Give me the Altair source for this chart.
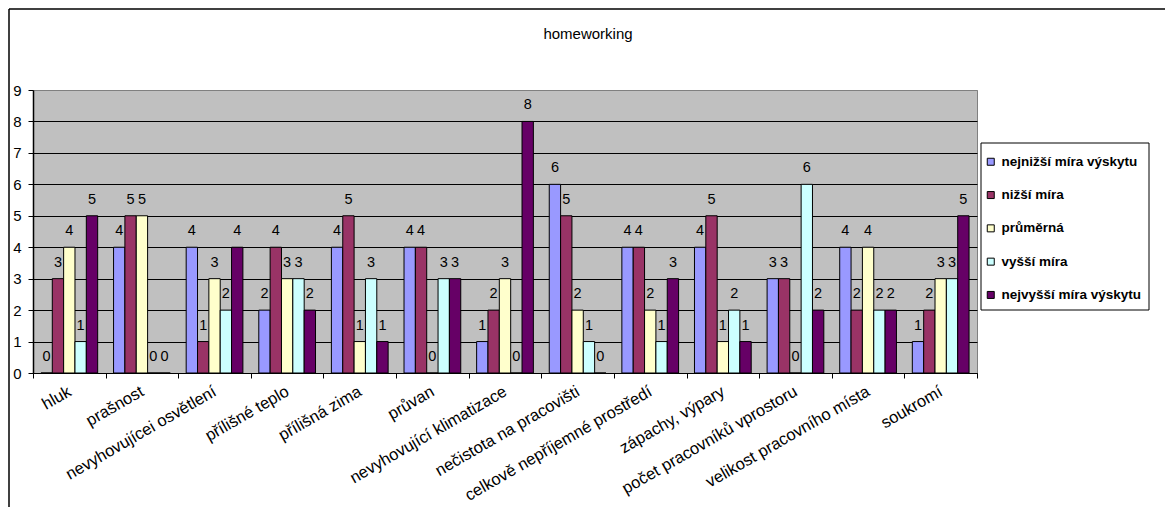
import altair as alt
import pandas as pd

# Categories of workplace conditions (x axis)
categories = [
    "hluk",
    "prašnost",
    "nevyhovujícei osvětlení",
    "přílišné teplo",
    "přílišná zima",
    "průvan",
    "nevyhovující klimatizace",
    "nečistota na pracovišti",
    "celkově nepříjemné prostředí",
    "zápachy, výpary",
    "počet pracovníků vprostoru",
    "velikost pracovního místa",
    "soukromí",
]

# Response levels (series)
series = [
    "nejnižší míra výskytu",
    "nižší míra",
    "průměrná",
    "vyšší míra",
    "nejvyšší míra výskytu",
]
colors = ["#9999FF", "#993366", "#FFFFCC", "#CCFFFF", "#660066"]

# Counts per level, one value per category
nejnizsi = [0, 4, 4, 2, 4, 4, 1, 6, 4, 4, 3, 4, 1]
nizsi = [3, 5, 1, 4, 5, 4, 2, 5, 4, 5, 3, 2, 2]
prumerna = [4, 5, 3, 3, 1, 0, 3, 2, 2, 1, 0, 4, 3]
vyssi = [1, 0, 2, 3, 3, 3, 0, 1, 1, 2, 6, 2, 3]
nejvyssi = [5, 0, 4, 2, 1, 3, 8, 0, 3, 1, 2, 2, 5]

y_ticks = list(range(0, 10))
chart_title = "homeworking"

rows = []
for name, vals in zip(series, [nejnizsi, nizsi, prumerna, vyssi, nejvyssi]):
    for cat, v in zip(categories, vals):
        rows.append({"kategorie": cat, "mira": name, "pocet": v})
df = pd.DataFrame(rows)

FONT = "Liberation Sans"
W, H = 944, 283

x_enc = alt.X(
    "kategorie:N",
    sort=categories,
    scale=alt.Scale(paddingInner=0, paddingOuter=0),
    axis=alt.Axis(
        title=None,
        labelAngle=330,
        labelAlign="right",
        labelBaseline="top",
        labelFontSize=16.5,
        labelColor="black",
        labelPadding=5,
        labelOffset=-4,
        labelLimit=400,
        tickBand="extent",
        tickSize=5,
        tickColor="black",
        domainColor="black",
        grid=False,
    ),
)
xoff_enc = alt.XOffset(
    "mira:N", sort=series, scale=alt.Scale(paddingInner=0, paddingOuter=0.7)
)
y_enc = alt.Y(
    "pocet:Q",
    scale=alt.Scale(domain=[0, 9], nice=False),
    axis=alt.Axis(
        title=None,
        values=y_ticks,
        labelFontSize=15,
        labelColor="black",
        labelPadding=7,
        tickSize=5,
        tickColor="black",
        domainColor="black",
        domainWidth=1.5,
        gridColor=alt.condition("datum.value == 9", alt.value("#808080"), alt.value("black")),
        gridWidth=1,
    ),
)

base = alt.Chart(df).encode(x=x_enc, xOffset=xoff_enc, y=y_enc)

bars = base.mark_bar(stroke="black", strokeWidth=1, opacity=1).encode(
    color=alt.Color(
        "mira:N",
        sort=series,
        scale=alt.Scale(domain=series, range=colors),
        legend=alt.Legend(
            title=None,
            orient="none",
            legendX=951,
            legendY=65,
            padding=0,
            symbolType="square",
            symbolSize=49,
            symbolStrokeColor="black",
            symbolStrokeWidth=1,
            symbolOpacity=1,
            labelFontSize=13.5,
            labelFontWeight="bold",
            labelColor="black",
            labelOffset=4,
            rowPadding=18.3,
            labelLimit=300,
        ),
    )
)

labels = base.mark_text(
    dy=-12, baseline="alphabetic", fontSize=14.5, color="black", font=FONT
).encode(text="pocet:Q")

# Outer frame of the chart (left and top edges) and the title inside it
one = alt.Chart(pd.DataFrame({"k": [0]}))
frame_left = one.mark_rule(color="black", strokeWidth=1.5).encode(
    x=alt.value(-24), y=alt.value(-81), y2=alt.value(420)
)
frame_top = one.mark_rule(color="black", strokeWidth=1.5).encode(
    x=alt.value(-24), x2=alt.value(1140), y=alt.value(-81)
)
title = one.mark_text(
    text=chart_title, fontSize=15, font=FONT, color="black",
    align="center", baseline="alphabetic",
).encode(x=alt.value(555), y=alt.value(-51))

# Legend box
legend_box = one.mark_rect(fill="white", stroke="black", strokeWidth=1).encode(
    x=alt.value(948), x2=alt.value(1116), y=alt.value(53), y2=alt.value(220)
)

chart = (
    alt.layer(frame_left, frame_top, title, legend_box, bars, labels)
    .properties(
        width=W,
        height=H,
        autosize=alt.AutoSizeParams(type="none"),
        padding={"left": 33, "top": 90, "right": 188, "bottom": 134},
        background="white",
    )
    .configure(font=FONT)
    .configure_view(fill="#C0C0C0", stroke="#808080", strokeWidth=1)
)

chart.save("out.html", embed_options={"renderer": "svg", "actions": False})
